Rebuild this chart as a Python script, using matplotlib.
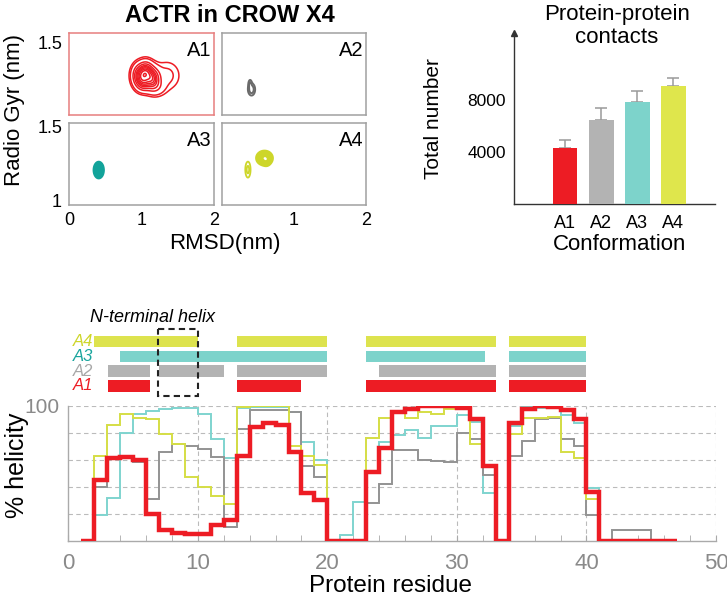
import numpy as np
import matplotlib
matplotlib.use('Agg')
import matplotlib.pyplot as plt
from matplotlib.patches import Rectangle

plt.rcParams['font.family'] = ['Liberation Sans', 'DejaVu Sans']

# ---------------- data ----------------
conformations = ['A1', 'A2', 'A3', 'A4']
contacts = [4300, 6450, 7820, 9080]
contacts_err = [580, 900, 870, 640]

residue_edges = list(range(1, 48))  # 1..47
helicity_A1 = [0, 45, 61, 62, 60, 19.5, 8, 5.4, 5, 5, 11.5, 15, 63, 84, 87, 86, 66, 35, 30, 0,
               0, 0, 51, 69, 95, 97.5, 100, 100, 99.5, 98, 90, 55, 0, 87, 97.5, 99.5, 99, 97, 90, 36,
               0, 0, 0, 0, 0, 0]
helicity_A2 = [0, 40, 61, 62, 58, 31, 66, 72, 70, 68, 62, 10, 83, 97, 97, 97, 95, 55, 47, 0,
               0, 0, 28, 42, 67, 67, 60, 59, 58.5, 80, 75, 49, 0, 63, 74, 90, 91, 75, 70, 19,
               0, 8, 8, 8, 0, 0]
helicity_A3 = [0, 19, 32, 80, 94, 96, 97.5, 98, 98, 94, 75, 61, 98, 99, 99, 99, 95, 73, 60, 0,
               4.4, 29, 52, 73, 78, 82, 76, 85, 85, 93, 88, 35, 0, 85, 99.5, 98, 98, 93, 87, 39,
               0, 0, 0, 0, 0, 0]
helicity_A4 = [0, 63, 86, 94, 91, 90, 79, 72, 47, 40, 33, 27, 99, 100, 100, 100, 70, 63, 56, 0,
               0, 0, 76, 91, 95, 91, 95, 94, 97.5, 98, 72, 55, 0, 79, 91, 91, 92, 66, 61.5, 31,
               0, 0, 0, 0, 0, 0]

helix_A4 = [(2, 10), (13, 20), (23, 33), (34, 40)]
helix_A3 = [(4, 20), (23, 32.2), (34, 40)]
helix_A2 = [(3.1, 6.3), (7, 12), (13, 20), (24, 33), (34, 40)]
helix_A1 = [(3.1, 6.3), (13, 18), (23, 33), (34, 40)]
nterm_box = (6.9, 10.05)

# density blobs: (rmsd, rg, sx, sy, weight)
blobs_A1 = [(0.97, 1.27, 0.06, 0.045, 0.8), (1.06, 1.30, 0.06, 0.04, 0.9),
            (1.15, 1.25, 0.065, 0.045, 0.9), (1.03, 1.22, 0.06, 0.035, 0.6),
            (1.35, 1.27, 0.12, 0.065, 0.13), (1.2, 1.19, 0.08, 0.035, 0.2)]
blobs_A2 = [(0.41, 1.175, 0.03, 0.025, 1.0), (0.39, 1.215, 0.015, 0.018, 0.6)]
blobs_A3 = [(0.41, 1.205, 0.035, 0.028, 1.0)]
blobs_A4 = [(0.59, 1.287, 0.057, 0.025, 1.0), (0.62, 1.27, 0.03, 0.02, 0.3),
            (0.36, 1.208, 0.03, 0.045, 0.25)]

# ---------------- figure ----------------
W, H = 727, 604
fig = plt.figure(figsize=(W / 100, H / 100), dpi=100)


def add_ax(l, t, r, b):
    return fig.add_axes([l / W, 1 - b / H, (r - l) / W, (b - t) / H])


RED = '#ED1C24'
GRAYL = '#939393'
CYANL = '#7FD4CF'
YELL = '#D5DE45'

# ---------- contour panels ----------
xg = np.linspace(0, 2, 400)
yg = np.linspace(0.9, 1.65, 400)
X, Y = np.meshgrid(xg, yg)


def field(blobs):
    Z = np.zeros_like(X)
    for cx, cy, sx, sy, w in blobs:
        Z += w * np.exp(-((X - cx) ** 2 / (2 * sx ** 2) + (Y - cy) ** 2 / (2 * sy ** 2)))
    return Z


panels = [
    dict(rect=(69, 33, 214, 115), ylim=(1.0, 1.562), blobs=blobs_A1,
         levels=[0.05, 0.1, 0.3, 0.5, 0.7, 0.85, 1.0, 1.15, 1.3, 1.45],
         color=RED, lw=1.1, edge='#E77F7F', label='A1', yt=[1.5], xt=[]),
    dict(rect=(222, 33, 366, 115), ylim=(1.0, 1.562), blobs=blobs_A2,
         levels=[0.25, 0.6], color='#6A6A6A', lw=1.4, edge='#A0A0A0', label='A2', yt=[], xt=[]),
    dict(rect=(69, 123, 214, 205), ylim=(0.966, 1.527), blobs=blobs_A3,
         levels=list(np.linspace(0.12, 0.95, 10)), color='#12A39A', lw=1.3, edge='#A0A0A0',
         label='A3', yt=[1, 1.5], xt=[0, 1, 2]),
    dict(rect=(222, 123, 366, 205), ylim=(0.966, 1.527), blobs=blobs_A4,
         levels=list(np.linspace(0.12, 0.95, 10)), color='#CDD62A', lw=1.3, edge='#A0A0A0',
         label='A4', yt=[], xt=[1, 2]),
]

for p in panels:
    ax = add_ax(*p['rect'])
    ax.contour(X, Y, field(p['blobs']), levels=p['levels'], colors=p['color'],
               linewidths=p['lw'])
    ax.set_xlim(0, 2)
    ax.set_ylim(*p['ylim'])
    for s in ax.spines.values():
        s.set_color(p['edge'])
        s.set_linewidth(1.1)
    ax.set_xticks(p['xt'])
    ax.set_xticklabels(['%g' % v for v in p['xt']])
    ax.set_yticks(p['yt'])
    ax.set_yticklabels(['%g' % v for v in p['yt']])
    ax.tick_params(length=0, labelsize=13, pad=5)
    ax.text(0.985, 0.905, p['label'], transform=ax.transAxes, ha='right', va='top',
            fontsize=14.5)

fig.text(230 / W, 1 - 16 / H, 'ACTR in CROW X4', ha='center', va='center',
         fontsize=17, fontweight='bold')
fig.text(15 / W, 1 - 110 / H, 'Radio Gyr (nm)', ha='center', va='center',
         rotation=90, fontsize=16)
fig.text(225 / W, 1 - 243 / H, 'RMSD(nm)', ha='center', va='center', fontsize=16)

# ---------- bar chart ----------
axb = add_ax(514, 33, 715, 203.5)
bar_colors = [RED, '#B3B3B3', '#7DD3CB', '#DFE64C']
pos = np.arange(len(conformations))
axb.errorbar(pos, contacts, yerr=[np.zeros(len(contacts)), contacts_err], fmt='none',
             ecolor='#9A9A9A', elinewidth=1.1, capsize=4, capthick=1.1, zorder=2)
axb.bar(pos, contacts, width=0.69, color=bar_colors, zorder=3)
axb.set_xlim(-1.41, 4.15)
axb.set_ylim(0, 13180)
axb.set_yticks([4000, 8000])
axb.set_xticks(pos)
axb.set_xticklabels(conformations)
axb.tick_params(axis='y', length=0, labelsize=12.5, pad=6)
axb.tick_params(axis='x', length=0, labelsize=13, pad=8)
for s in ['top', 'right']:
    axb.spines[s].set_visible(False)
for s in ['left', 'bottom']:
    axb.spines[s].set_color('#333333')
    axb.spines[s].set_linewidth(1.0)
axb.plot(0, 1, marker='^', color='#333333', ms=4, transform=axb.transAxes, clip_on=False)
axb.set_ylabel('Total number', fontsize=15)
axb.yaxis.set_label_coords(-0.353, 0.5)
fig.text(617 / W, 1 - 26 / H, 'Protein-protein\ncontacts', ha='center', va='center',
         fontsize=16, linespacing=1.1)
fig.text(620 / W, 1 - 244 / H, 'Conformation', ha='center', va='center', fontsize=16)

# ---------- helicity ----------
axh = add_ax(68.3, 405.7, 716, 540.7)
grid_kw = dict(color='#BBBBBB', lw=0.8, ls=(0, (4, 3)), zorder=0)
for yv in (20, 40, 60, 80, 100):
    axh.axhline(yv, **grid_kw)
for xv in (10, 20, 30, 40, 50):
    axh.axvline(xv, **grid_kw)

axh.stairs(helicity_A3, residue_edges, baseline=None, color=CYANL, lw=1.4, zorder=2)
axh.stairs(helicity_A2, residue_edges, baseline=None, color=GRAYL, lw=1.4, zorder=2)
axh.stairs(helicity_A4, residue_edges, baseline=None, color=YELL, lw=1.4, zorder=2)
axh.stairs(helicity_A1, residue_edges, baseline=None, color=RED, lw=3.2, zorder=3)

axh.set_xlim(0, 50)
axh.set_ylim(0, 100)
axh.set_xticks(range(0, 51, 10))
axh.set_xticks(range(0, 51, 2), minor=True)
axh.tick_params(axis='x', which='both', direction='in', length=4, color='#AAAAAA',
                labelcolor='#8A8A8A', labelsize=16, pad=9)
axh.set_yticks([100])
axh.tick_params(axis='y', length=0, labelcolor='#8A8A8A', labelsize=15, pad=6)
for s in ['top', 'right']:
    axh.spines[s].set_visible(False)
for s in ['left', 'bottom']:
    axh.spines[s].set_color('#AAAAAA')
    axh.spines[s].set_linewidth(1.0)
fig.text(390 / W, 1 - 586 / H, 'Protein residue', ha='center', va='center', fontsize=17.5)
fig.text(17 / W, 1 - 465 / H, '% helicity', ha='center', va='center', rotation=90,
         fontsize=18)

# ---------- helix bars ----------
axs = add_ax(68.3, 305, 716, 400)
axs.set_xlim(0, 50)
axs.set_ylim(400, 305)
axs.axis('off')
rows = [(helix_A4, '#DDE34E', '#CED62A', 'A4', 341.5),
        (helix_A3, '#7DD3CB', '#19A59D', 'A3', 356.5),
        (helix_A2, '#B3B3B3', '#A8A8A8', 'A2', 371),
        (helix_A1, RED, RED, 'A1', 386)]
for segs, col, tcol, lab, yc in rows:
    axs.broken_barh([(a, b - a) for a, b in segs], (yc - 5.6, 11.2), facecolors=col)
    axs.text(1.95, yc, lab, ha='right', va='center', fontsize=12, style='italic',
             color=tcol)
axs.add_patch(Rectangle((nterm_box[0], 329), nterm_box[1] - nterm_box[0], 67, fill=False,
                        ec='#222222', lw=1.5, ls=(0, (3, 2))))
axs.text(6.5, 318, 'N-terminal helix', ha='center', va='center', fontsize=13,
         style='italic')

fig.savefig('out.png', dpi=100)
